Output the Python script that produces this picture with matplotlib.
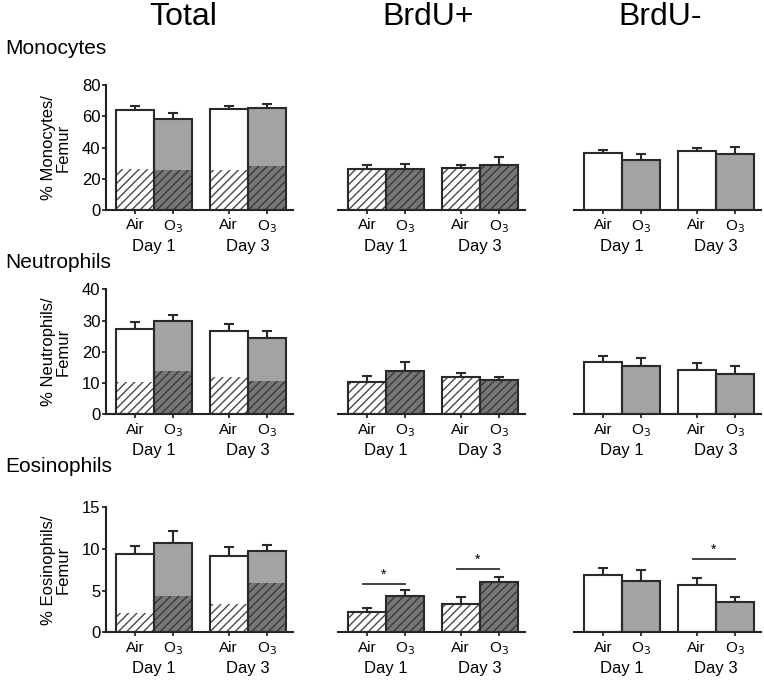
import matplotlib.pyplot as plt

plt.rcParams['font.family'] = ['Liberation Sans', 'DejaVu Sans']
plt.rcParams['hatch.linewidth'] = 1.0

# bar labels
groups = ['Air', 'O$_3$', 'Air', 'O$_3$']
days = ['Day 1', 'Day 3']
columns = ['Total', 'BrdU+', 'BrdU-']
cells = ['Monocytes', 'Neutrophils', 'Eosinophils']
ylabels = ['% Monocytes/\nFemur', '% Neutrophils/\nFemur', '% Eosinophils/\nFemur']

# Monocytes
mono_total = [63.8, 58.4, 64.4, 65.5]
mono_total_err = [2.5, 3.6, 2.4, 2.5]
mono_total_pos = [26.5, 25.8, 25.7, 28.2]
mono_pos = [26.5, 26.0, 26.6, 29.1]
mono_pos_err = [2.1, 3.5, 2.3, 4.6]
mono_neg = [36.6, 31.7, 37.7, 36.1]
mono_neg_err = [2.1, 4.3, 2.3, 4.4]

# Neutrophils
neut_total = [27.3, 29.8, 26.5, 24.3]
neut_total_err = [2.2, 1.9, 2.4, 2.5]
neut_total_pos = [10.3, 13.9, 11.8, 10.6]
neut_pos = [10.4, 14.0, 11.8, 10.9]
neut_pos_err = [1.7, 2.8, 1.3, 0.9]
neut_neg = [16.6, 15.3, 14.1, 13.0]
neut_neg_err = [2.0, 2.6, 2.3, 2.6]

# Eosinophils
eos_total = [9.35, 10.67, 9.2, 9.75]
eos_total_err = [1.0, 1.45, 1.07, 0.7]
eos_total_pos = [2.36, 4.33, 3.37, 5.9]
eos_pos = [2.4, 4.4, 3.45, 6.0]
eos_pos_err = [0.53, 0.66, 0.8, 0.66]
eos_neg = [6.87, 6.2, 5.66, 3.65]
eos_neg_err = [0.88, 1.3, 0.88, 0.6]

# significance brackets: (from bar, to bar, height)
eos_pos_sig = [(0, 1, 5.8), (2, 3, 7.6)]
eos_neg_sig = [(2, 3, 8.8)]

ymax = [80, 40, 15]
ystep = [20, 10, 5]

x = [0, 1, 2.47, 3.47]
solid_fill = ['white', '#a3a3a3', 'white', '#a3a3a3']
hatch_fill = ['white', '#767676', 'white', '#767676']
hatch_line = ['#4a4a4a', '#3a3a3a', '#4a4a4a', '#3a3a3a']
edge = '#2a2a2a'

data = [
    [(mono_total, mono_total_err, mono_total_pos), (mono_pos, mono_pos_err), (mono_neg, mono_neg_err)],
    [(neut_total, neut_total_err, neut_total_pos), (neut_pos, neut_pos_err), (neut_neg, neut_neg_err)],
    [(eos_total, eos_total_err, eos_total_pos), (eos_pos, eos_pos_err), (eos_neg, eos_neg_err)],
]
sigs = [[[], [], []], [[], [], []], [[], eos_pos_sig, eos_neg_sig]]

W, H = 764, 680
fig = plt.figure(figsize=(W / 100, H / 100), dpi=100)

col_left = [106, 338, 574]
row_zero = [210, 414.3, 632.3]
ax_w, ax_h = 187, 125


def hatched(ax, vals):
    ax.bar(x, vals, width=1.0, color=hatch_fill, edgecolor=hatch_line,
           hatch='////', linewidth=0, zorder=2)


def outline(ax, vals):
    ax.bar(x, vals, width=1.0, fill=False, edgecolor=edge, linewidth=1.5, zorder=3)


def errs(ax, vals, err):
    ax.errorbar(x, vals, yerr=[[0] * len(err), err], fmt='none', ecolor=edge,
                elinewidth=1.5, capsize=3.6, capthick=1.5, zorder=1.5)


for r in range(3):
    for c in range(3):
        ax = fig.add_axes([col_left[c] / W, (H - row_zero[r]) / H, ax_w / W, ax_h / H])
        d = data[r][c]
        if c == 0:
            vals, err, part = d
            errs(ax, vals, err)
            ax.bar(x, vals, width=1.0, color=solid_fill, linewidth=0, zorder=1.8)
            hatched(ax, part)
            outline(ax, vals)
        elif c == 1:
            vals, err = d
            errs(ax, vals, err)
            hatched(ax, vals)
            outline(ax, vals)
        else:
            vals, err = d
            errs(ax, vals, err)
            ax.bar(x, vals, width=1.0, color=solid_fill, linewidth=0, zorder=2)
            outline(ax, vals)

        for i, j, y in sigs[r][c]:
            ax.plot([x[i] - 0.1, x[j]], [y, y], color='#333333', lw=1.3)
            ax.text((x[i] + x[j]) / 2 - 0.05, y + ymax[r] * 0.015, '*', ha='center',
                    va='bottom', fontsize=10)

        ax.set_xlim(-0.76, 4.16)
        ax.set_ylim(0, ymax[r])
        ax.set_xticks(x)
        ax.set_xticklabels(groups, fontsize=11)
        ax.tick_params(axis='x', direction='out', length=3, width=1.3, pad=3,
                       color=edge)
        for s in ['top', 'right']:
            ax.spines[s].set_visible(False)
        ax.spines['bottom'].set_linewidth(1.5)
        ax.spines['bottom'].set_color('#222222')
        if c == 0:
            ax.set_yticks(range(0, ymax[r] + 1, ystep[r]))
            ax.tick_params(axis='y', direction='out', length=3, width=1.3, pad=1,
                           labelsize=12, color=edge)
            ax.spines['left'].set_linewidth(1.5)
            ax.spines['left'].set_color('#222222')
            ax.set_ylabel(ylabels[r], fontsize=12, labelpad=8, linespacing=1.0)
        else:
            ax.spines['left'].set_visible(False)
            ax.set_yticks([])
        for k, day in enumerate(days):
            ax.annotate(day, xy=((x[2 * k] + x[2 * k + 1]) / 2, 0),
                        xycoords=('data', 'axes fraction'), xytext=(0, -36),
                        textcoords='offset pixels', ha='center', va='center',
                        fontsize=12)

# column titles and row titles
for name, cx in zip(columns, [183, 428, 660]):
    fig.text(cx / W, 1 - 17 / H, name, ha='center', va='center', fontsize=23)
for name, cy in zip(cells, [48, 262, 467]):
    fig.text(5 / W, 1 - cy / H, name, ha='left', va='center', fontsize=15)

fig.savefig('out.png', dpi=100)
